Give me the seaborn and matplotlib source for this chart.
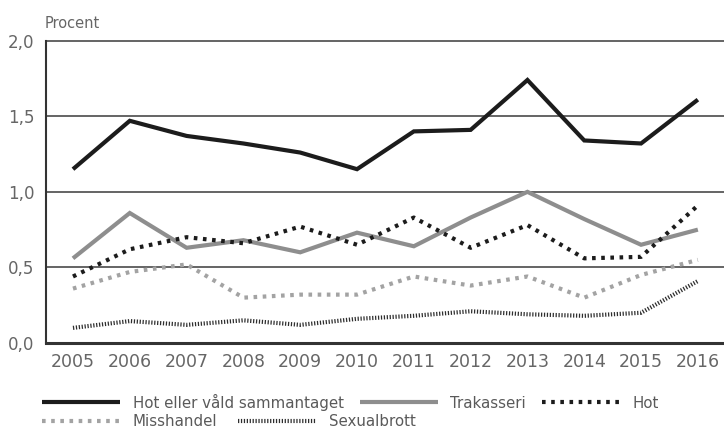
import numpy as np
import matplotlib
matplotlib.use("Agg")
import matplotlib.pyplot as plt
import seaborn as sns
import pandas as pd
from matplotlib.lines import Line2D

years = [2005, 2006, 2007, 2008, 2009, 2010, 2011, 2012, 2013, 2014, 2015, 2016]
hot_eller_vald = [1.15, 1.47, 1.37, 1.32, 1.26, 1.15, 1.40, 1.41, 1.74, 1.34, 1.32, 1.61]
trakasseri = [0.56, 0.86, 0.63, 0.68, 0.60, 0.73, 0.64, 0.83, 1.00, 0.82, 0.65, 0.75]
hot = [0.44, 0.62, 0.70, 0.66, 0.77, 0.65, 0.83, 0.63, 0.78, 0.56, 0.57, 0.91]
misshandel = [0.36, 0.47, 0.52, 0.30, 0.32, 0.32, 0.44, 0.38, 0.44, 0.30, 0.45, 0.55]
sexualbrott = [0.10, 0.145, 0.12, 0.15, 0.12, 0.16, 0.18, 0.21, 0.19, 0.18, 0.20, 0.41]

series_names = ["Hot eller våld sammantaget", "Trakasseri", "Hot", "Misshandel", "Sexualbrott"]
series_values = [hot_eller_vald, trakasseri, hot, misshandel, sexualbrott]
ytick_vals = [0.0, 0.5, 1.0, 1.5, 2.0]
ytick_labels = ["0,0", "0,5", "1,0", "1,5", "2,0"]

# style per series: colour, linewidth, dash pattern (points) or None for solid
styles = {
    "Hot eller våld sammantaget": ("#1c1c1c", 3.0, None),
    "Trakasseri": ("#8e8e8e", 3.0, None),
    "Hot": ("#1c1c1c", 3.0, (2.6, 4.0)),
    "Misshandel": ("#a3a3a3", 3.0, (2.6, 4.0)),
    "Sexualbrott": ("#2e2e2e", 3.0, (0.9, 1.2)),
}

df = pd.concat([pd.DataFrame({"År": years, "Procent": v, "Serie": n})
                for n, v in zip(series_names, series_values)], ignore_index=True)

sns.set_theme(style="white")
plt.rcParams["font.family"] = ["DejaVu Sans"]
plt.rcParams["lines.scale_dashes"] = False

fig = plt.figure(figsize=(7.24, 4.30), dpi=100)
ax = fig.add_axes([45.7 / 724, 1 - 343 / 430, 1 - 45.7 / 724, (343 - 40.7) / 430])

handles = []
for name in series_names:
    color, lw, dash = styles[name]
    sub = df[df["Serie"] == name]
    sns.lineplot(data=sub, x="År", y="Procent", ax=ax, color=color, lw=lw, legend=False)
    line = ax.lines[-1]
    line.set_solid_capstyle("butt")
    line.set_solid_joinstyle("miter")
    if dash is not None:
        line.set_dashes(dash)
        line.set_dash_capstyle("butt")
    h = Line2D([], [], color=color, lw=lw, solid_capstyle="butt")
    if dash is not None:
        h.set_dashes(dash)
    handles.append(h)

ax.set_xlim(2004.52, 2016.46)
ax.set_ylim(0, 2.0)
ax.set_xticks(years)
ax.set_xticklabels([str(y) for y in years])
ax.set_yticks(ytick_vals)
ax.set_yticklabels(ytick_labels)
ax.set_xlabel("")
ax.set_ylabel("")

for v in ytick_vals[1:]:
    ax.axhline(v, color="#4a4a4a", lw=1.2, zorder=0.5, clip_on=False)

for s in ["top", "right"]:
    ax.spines[s].set_visible(False)
ax.spines["left"].set_color("#333333")
ax.spines["left"].set_linewidth(1.5)
ax.spines["bottom"].set_color("#333333")
ax.spines["bottom"].set_linewidth(2.2)

ax.tick_params(axis="x", direction="in", length=6, width=1.2, color="#333333",
               labelsize=12.5, labelcolor="#666666", pad=7)
ax.tick_params(axis="y", length=0, labelsize=12, labelcolor="#666666", pad=8)

fig.text(45 / 724, 1 - 24 / 430, "Procent", fontsize=10.5, color="#666666",
         ha="left", va="center")

leg_kw = dict(frameon=False, fontsize=10.8, handlelength=5.2, handletextpad=0.85,
              borderpad=0, borderaxespad=0, labelcolor="#5a5a5a", loc="center left")
fig.legend(handles[:3], series_names[:3], ncol=3, columnspacing=1.05,
           bbox_to_anchor=(42 / 724, 1 - 402 / 430), **leg_kw)
fig.legend(handles[3:], series_names[3:], ncol=2, columnspacing=1.4,
           bbox_to_anchor=(42 / 724, 1 - 422 / 430), **leg_kw)

fig.savefig("out.png", dpi=100)
